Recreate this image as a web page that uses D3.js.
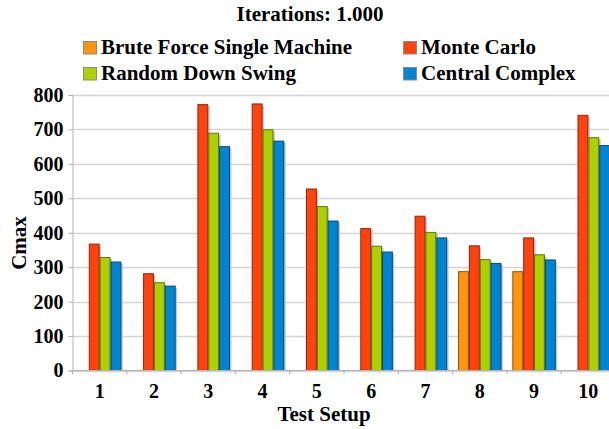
<!DOCTYPE html>
<html lang="en">
<head>
<meta charset="utf-8">
<title>Iterations: 1.000</title>
<script src="https://d3js.org/d3.v7.min.js"></script>
<style>
    body { margin: 0; background: #fff; }
    svg text { font-family: "Liberation Serif", "DejaVu Serif", serif; font-weight: bold; fill: #000; }
</style>
</head>
<body>
<div id="chart"></div>
<script type="text/javascript">
    // chart data
    var categories = ['1', '2', '3', '4', '5', '6', '7', '8', '9', '10'];
    var seriesNames = ['Brute Force Single Machine', 'Monte Carlo', 'Random Down Swing', 'Central Complex'];
    var seriesColors = ['#ff950e', '#ff420e', '#aecf00', '#0084d1'];
    var bruteForce = [null, null, null, null, null, null, null, 287, 287, null];
    var monteCarlo = [367, 281, 772, 774, 527, 412, 448, 362, 385, 741];
    var randomDownSwing = [328, 255, 689, 699, 476, 361, 401, 322, 336, 676];
    var centralComplex = [315, 245, 650, 666, 434, 344, 385, 311, 321, 653];
    var yTicks = [0, 100, 200, 300, 400, 500, 600, 700, 800];

    var seriesValues = [bruteForce, monteCarlo, randomDownSwing, centralComplex];

    var width = 609, height = 429;
    var plotLeft = 72.5, plotRight = 615.5, plotTop = 95, plotBottom = 370.5;

    var svg = d3.select('#chart').append('svg')
        .attr('width', width)
        .attr('height', height);

    var x = d3.scaleBand()
        .domain(categories)
        .range([plotLeft, plotRight])
        .paddingInner(0.2)
        .paddingOuter(0.1);

    var xInner = d3.scaleBand()
        .domain(d3.range(seriesNames.length))
        .range([0, x.bandwidth()]);

    var y = d3.scaleLinear()
        .domain([0, 800])
        .range([plotBottom, plotTop]);

    // grid lines
    svg.append('g').selectAll('line')
        .data(yTicks)
        .enter().append('line')
        .attr('x1', plotLeft)
        .attr('x2', width)
        .attr('y1', function (d) { return Math.round(y(d)) + 0.5; })
        .attr('y2', function (d) { return Math.round(y(d)) + 0.5; })
        .attr('stroke', '#d4d4d4')
        .attr('stroke-width', 1.5);

    // y axis
    var yAxis = svg.append('g')
        .attr('transform', 'translate(' + plotLeft + ',0)')
        .call(d3.axisLeft(y).tickValues(yTicks).tickSize(4).tickPadding(5));
    yAxis.select('.domain').attr('stroke', '#b3b3b3');
    yAxis.selectAll('.tick line').attr('stroke', '#b3b3b3');
    yAxis.selectAll('.tick text')
        .style('font-family', '"Liberation Serif", serif')
        .style('font-weight', 'bold')
        .style('font-size', '20px')
        .attr('fill', '#000');

    // bars: shadow first, then the bar itself
    var groups = svg.append('g').selectAll('g')
        .data(categories)
        .enter().append('g')
        .attr('transform', function (d) { return 'translate(' + x(d) + ',0)'; });

    var barData = function (d, i) {
        return seriesValues.map(function (vals, s) {
            return { series: s, value: vals[i] };
        }).filter(function (b) { return b.value != null; });
    };

    groups.selectAll('.shadow')
        .data(barData)
        .enter().append('rect')
        .attr('class', 'shadow')
        .attr('x', function (d) { return xInner(d.series) + 1.5; })
        .attr('y', function (d) { return y(d.value) + 1.5; })
        .attr('width', xInner.bandwidth())
        .attr('height', function (d) { return plotBottom - y(d.value) - 1.5; })
        .attr('fill', '#c8c8c8');

    groups.selectAll('.bar')
        .data(barData)
        .enter().append('rect')
        .attr('class', 'bar')
        .attr('x', function (d) { return xInner(d.series) + 0.5; })
        .attr('y', function (d) { return y(d.value); })
        .attr('width', xInner.bandwidth() - 1)
        .attr('height', function (d) { return plotBottom - y(d.value); })
        .attr('fill', function (d) { return seriesColors[d.series]; })
        .attr('stroke', function (d) { return d3.color(seriesColors[d.series]).darker(1.6); })
        .attr('stroke-width', 1);

    // x axis with ticks on the category boundaries
    svg.append('line')
        .attr('x1', plotLeft).attr('x2', width)
        .attr('y1', plotBottom).attr('y2', plotBottom)
        .attr('stroke', '#b3b3b3');
    svg.append('g').selectAll('line')
        .data(d3.range(categories.length + 1))
        .enter().append('line')
        .attr('x1', function (i) { return plotLeft + i * x.step(); })
        .attr('x2', function (i) { return plotLeft + i * x.step(); })
        .attr('y1', plotBottom)
        .attr('y2', plotBottom + 4)
        .attr('stroke', '#b3b3b3');
    svg.append('g').selectAll('text')
        .data(categories)
        .enter().append('text')
        .attr('x', function (d) { return x(d) + x.bandwidth() / 2; })
        .attr('y', 398)
        .attr('text-anchor', 'middle')
        .style('font-size', '20px')
        .text(function (d) { return d; });

    // axis titles
    svg.append('text')
        .attr('x', 324)
        .attr('y', 421)
        .attr('text-anchor', 'middle')
        .style('font-size', '21px')
        .text('Test Setup');

    svg.append('text')
        .attr('transform', 'translate(26,243) rotate(-90)')
        .attr('text-anchor', 'middle')
        .style('font-size', '21px')
        .text('Cmax');

    // title
    svg.append('text')
        .attr('x', 310)
        .attr('y', 21)
        .attr('text-anchor', 'middle')
        .style('font-size', '21px')
        .text('Iterations: 1.000');

    // legend (two columns, two rows)
    var legendX = [83, 403], legendY = [54, 80];
    var legend = svg.append('g').selectAll('g')
        .data(seriesNames)
        .enter().append('g')
        .attr('transform', function (d, i) {
            return 'translate(' + legendX[i % 2] + ',' + legendY[Math.floor(i / 2)] + ')';
        });
    legend.append('rect')
        .attr('x', 0.5).attr('y', -12.5)
        .attr('width', 13).attr('height', 12.5)
        .attr('fill', function (d, i) { return seriesColors[i]; })
        .attr('stroke', '#8a8a8a');
    legend.append('text')
        .attr('x', 18)
        .attr('y', 0)
        .style('font-size', '21px')
        .text(function (d) { return d; });
</script>
</body>
</html>
